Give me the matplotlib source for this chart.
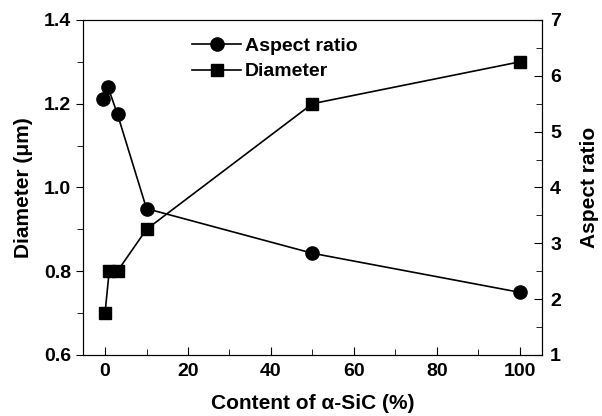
import matplotlib
matplotlib.use("Agg")
import matplotlib.pyplot as plt
from matplotlib.ticker import MultipleLocator

plt.rcParams['font.family'] = ['Liberation Sans', 'DejaVu Sans']
plt.rcParams['font.weight'] = 'bold'

# data
sic_d = [0, 1, 3, 10, 50, 100]
diameter = [0.70, 0.80, 0.80, 0.90, 1.20, 1.30]
sic_a = [-0.5, 0.7, 3, 10, 50, 100]
aspect = [5.58, 5.80, 5.31, 3.62, 2.82, 2.12]

fig = plt.figure(figsize=(6.02, 4.16), dpi=100)
ax = fig.add_axes([0.138, 0.147, 0.762, 0.805])
ax2 = ax.twinx()

l1, = ax2.plot(sic_a, aspect, 'k-', marker='o', markersize=9.5, lw=1.2, label='Aspect ratio')
l2, = ax.plot(sic_d, diameter, 'k-', marker='s', markersize=9, lw=1.2, label='Diameter')

ax.set_xlim(-5.3, 105.3)
ax.set_ylim(0.6, 1.4)
ax2.set_ylim(1, 7)
ax.xaxis.set_major_locator(MultipleLocator(20))
ax.xaxis.set_minor_locator(MultipleLocator(10))
ax.yaxis.set_major_locator(MultipleLocator(0.2))
ax.yaxis.set_minor_locator(MultipleLocator(0.1))
ax2.yaxis.set_major_locator(MultipleLocator(1))
ax2.yaxis.set_minor_locator(MultipleLocator(0.5))
ax.yaxis.set_major_formatter(plt.FormatStrFormatter('%.1f'))

ax.tick_params(axis='x', which='both', direction='in', labelsize=14, pad=6)
ax.tick_params(axis='x', which='major', length=6)
ax.tick_params(axis='x', which='minor', length=4)
ax.tick_params(axis='y', which='both', direction='out', labelsize=14)
ax.tick_params(axis='y', which='major', length=5)
ax.tick_params(axis='y', which='minor', length=4)
ax2.tick_params(axis='y', which='both', direction='in', labelsize=14, pad=6)
ax2.tick_params(axis='y', which='major', length=6)
ax2.tick_params(axis='y', which='minor', length=4)

ax.set_xlabel('Content of \u03b1-SiC (%)', fontsize=15, fontweight='bold', labelpad=10)
ax.set_ylabel('Diameter (\u03bcm)', fontsize=15, fontweight='bold', labelpad=8)
ax2.set_ylabel('Aspect ratio', fontsize=15, fontweight='bold', labelpad=14)

ax.legend(handles=[l1, l2], loc='upper left', bbox_to_anchor=(0.2, 1.0), frameon=False,
          fontsize=14, handlelength=2.5, handletextpad=0.2, labelspacing=0.4)

fig.savefig('out.png', dpi=100)
